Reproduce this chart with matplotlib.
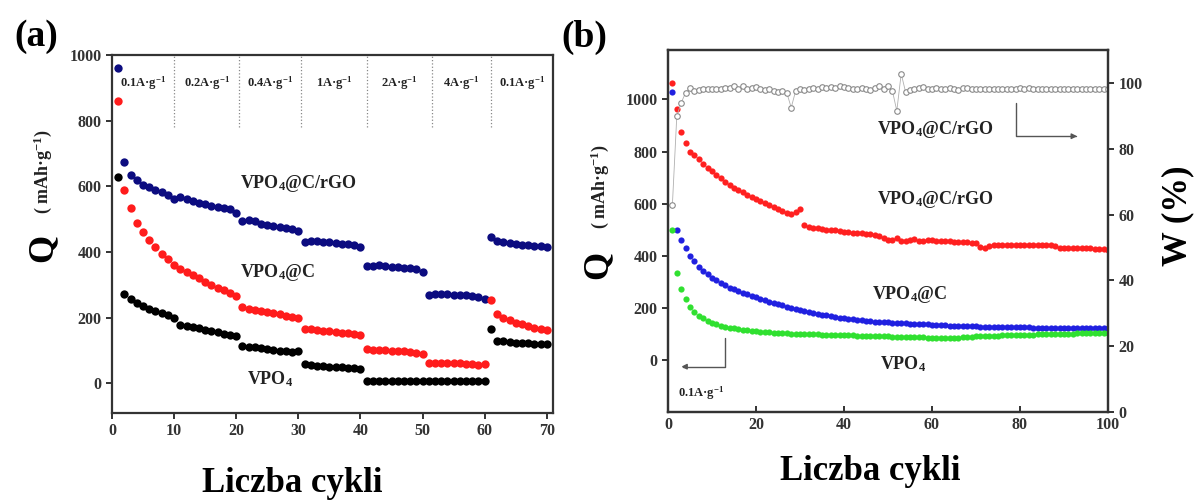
import matplotlib
matplotlib.use("Agg")
import matplotlib.pyplot as plt
import numpy as np

plt.rcParams['font.family'] = ['Liberation Serif', 'DejaVu Serif']
plt.rcParams['font.weight'] = 'bold'
plt.rcParams['mathtext.fontset'] = 'custom'
plt.rcParams['mathtext.rm'] = 'Liberation Serif:bold'
plt.rcParams['mathtext.bf'] = 'Liberation Serif:bold'
plt.rcParams['mathtext.it'] = 'Liberation Serif:bold:italic'
plt.rcParams['mathtext.default'] = 'bf'

# ---------------- data: panel (a) rate capability ----------------
cycles_a = list(range(1, 71))
rate_labels = ['0.1A·g$^{-1}$', '0.2A·g$^{-1}$', '0.4A·g$^{-1}$', '1A·g$^{-1}$',
               '2A·g$^{-1}$', '4A·g$^{-1}$', '0.1A·g$^{-1}$']
rate_bounds = [0, 10, 20.5, 30.5, 41, 51.5, 61, 71]

cap_a_rgo = [960, 675, 635, 620, 605, 597, 590, 582, 575, 562,
             568, 562, 555, 550, 545, 540, 537, 533, 530, 518,
             495, 498, 495, 485, 482, 480, 476, 474, 470, 465,
             432, 435, 433, 430, 430, 428, 426, 425, 420, 414,
             358, 357, 360, 357, 355, 354, 352, 350, 347, 340,
             270, 272, 273, 272, 270, 270, 268, 266, 264, 258,
             446, 435, 430, 428, 425, 423, 421, 419, 418, 415]
cap_a_c = [860, 590, 535, 490, 462, 438, 415, 395, 378, 362,
           348, 340, 330, 320, 310, 300, 292, 283, 275, 265,
           232, 228, 224, 220, 216, 213, 210, 206, 203, 198,
           166, 165, 163, 161, 159, 157, 155, 153, 151, 148,
           104, 103, 102, 101, 100, 99, 98, 96, 94, 91,
           62, 63, 63, 62, 62, 61, 60, 58, 56, 58,
           253, 210, 200, 192, 185, 180, 175, 170, 166, 162]
cap_a_vpo = [630, 273, 258, 245, 235, 227, 220, 213, 207, 200,
             178, 176, 172, 168, 164, 160, 156, 152, 148, 144,
             113, 112, 110, 108, 106, 103, 100, 98, 97, 98,
             58, 56, 54, 52, 51, 50, 49, 48, 47, 45,
             8, 8, 8, 7, 7, 7, 7, 7, 7, 7,
             7, 7, 7, 7, 7, 6, 6, 6, 6, 6,
             165, 130, 128, 126, 124, 123, 122, 121, 120, 119]

# ---------------- data: panel (b) cycling at 0.1 A/g ----------------
cycles_b = list(range(1, 101))
cap_b_rgo = [1065, 965, 875, 832, 800, 785, 770, 752, 738, 724,
             710, 697, 684, 672, 662, 652, 643, 633, 625, 618,
             610, 602, 594, 586, 578, 572, 566, 562, 568, 578,
             519, 512, 508, 505, 503, 500, 498, 497, 495, 492,
             490, 488, 487, 486, 485, 482, 478, 476, 470, 460,
             462, 468, 458, 455, 462, 466, 456, 455, 460, 462,
             458, 455, 458, 456, 454, 453, 452, 451, 450, 449,
             432, 430, 436, 440, 441, 442, 442, 443, 443, 443,
             443, 442, 442, 442, 441, 441, 440, 436, 430, 429,
             430, 430, 429, 429, 428, 428, 427, 426, 425, 423]
cap_b_c = [1030, 500, 462, 428, 400, 378, 358, 342, 328, 316,
           305, 295, 286, 278, 271, 264, 258, 252, 246, 240,
           234, 229, 224, 219, 214, 209, 205, 201, 197, 193,
           189, 185, 181, 177, 174, 171, 168, 165, 162, 160,
           158, 156, 154, 152, 150, 149, 147, 146, 145, 144,
           143, 142, 141, 140, 139, 138, 137, 136, 136, 135,
           134, 133, 133, 132, 131, 131, 130, 130, 129, 129,
           128, 128, 127, 127, 127, 126, 126, 126, 125, 125,
           125, 125, 124, 124, 124, 124, 123, 123, 123, 123,
           123, 122, 122, 122, 122, 122, 122, 121, 121, 121]
cap_b_vpo = [500, 335, 272, 232, 205, 185, 170, 160, 150, 143,
             137, 132, 128, 124, 121, 118, 116, 114, 112, 110,
             109, 108, 106, 105, 104, 103, 102, 101, 100, 100,
             99, 99, 98, 98, 97, 97, 96, 96, 95, 95,
             94, 94, 93, 93, 92, 92, 91, 91, 90, 90,
             89, 89, 88, 88, 88, 87, 87, 87, 86, 86,
             86, 86, 85, 85, 86, 86, 87, 88, 89, 90,
             91, 91, 92, 93, 93, 94, 94, 95, 95, 96,
             96, 97, 97, 98, 98, 99, 99, 100, 100, 100,
             101, 101, 102, 102, 102, 103, 103, 103, 104, 104]
ce_b = [63, 90, 94, 97, 98.5, 97.5, 97.8, 98.0, 98.2, 98.0,
        98.3, 98.1, 98.4, 98.6, 99.0, 98.2, 99.2, 98.0, 98.6, 98.9,
        98.3, 97.8, 98.1, 97.5, 97.2, 97.4, 97.0, 92.5, 97.5, 98.0,
        97.8, 98.3, 98.5, 98.1, 98.7, 98.4, 98.9, 98.6, 99.0, 98.8,
        98.5, 98.2, 98.0, 98.4, 98.1, 97.9, 98.5, 99.2, 98.0, 99.0,
        97.6, 91.5, 102.8, 97.2, 97.8, 98.2, 98.5, 98.8, 98.3, 98.1,
        98.6, 98.0, 98.3, 98.5, 98.2, 97.9, 98.4, 98.6, 98.1, 98.3,
        98.0, 98.2, 98.1, 98.0, 98.1, 98.2, 98.0, 98.1, 98.3, 98.4,
        98.2, 98.6, 98.1, 98.0, 98.2, 98.1, 98.0, 98.1, 98.2, 98.3,
        98.1, 98.0, 98.1, 98.2, 98.1, 98.0, 98.1, 98.2, 98.1, 98.2]

W, H = 1195, 503
fig = plt.figure(figsize=(W / 100, H / 100), dpi=100)

def fx(px):
    return px / W

def fy(py):
    return 1 - py / H

spine_c = '#333333'

def style_axes(ax):
    for s in ax.spines.values():
        s.set_linewidth(1.6)
        s.set_color(spine_c)
    ax.tick_params(labelsize=11.5, colors='#333333', width=1.4, length=4)
    for lab in ax.get_xticklabels() + ax.get_yticklabels():
        lab.set_fontweight('bold')

# ---------------- panel (a) ----------------
axA = fig.add_axes([fx(112), fy(413), fx(553) - fx(112), fy(55) - fy(413)])
axA.scatter(cycles_a, cap_a_rgo, s=36, color='#0c0c80', zorder=3, linewidths=0)
axA.scatter(cycles_a, cap_a_c, s=36, color='#ff1c1c', zorder=4, linewidths=0)
axA.scatter(cycles_a, cap_a_vpo, s=36, color='#000000', zorder=5, linewidths=0)
axA.set_xlim(0, 71)
axA.set_ylim(-90, 1000)
axA.set_xticks(range(0, 71, 10))
axA.set_yticks(range(0, 1001, 200))
axA.tick_params(direction='out')
style_axes(axA)
axA.vlines(rate_bounds[1:-1], 780, 1000, colors='#888888', linestyles=':', lw=0.9)
for i, lab in enumerate(rate_labels):
    xc = (rate_bounds[i] + rate_bounds[i + 1]) / 2
    axA.text(xc, 915, lab, ha='center', va='center', fontsize=9,
             fontweight='bold', color='#222222')
axA.text(30, 610, r'VPO$_{4}$@C/rGO', ha='center', va='center', fontsize=13, color='#222222')
axA.text(26.6, 338, r'VPO$_{4}$@C', ha='center', va='center', fontsize=13, color='#222222')
axA.text(25.4, 12, r'VPO$_{4}$', ha='center', va='center', fontsize=13, color='#222222')

# ---------------- panel (b) ----------------
axB = fig.add_axes([fx(668), fy(412), fx(1108) - fx(668), fy(50) - fy(412)])
axB2 = axB.twinx()
axB.scatter(cycles_b, cap_b_rgo, s=20, color='#ff2020', zorder=3, linewidths=0)
axB.scatter(cycles_b, cap_b_c, s=20, color='#2020e0', zorder=4, linewidths=0)
axB.scatter(cycles_b, cap_b_vpo, s=20, color='#30e030', zorder=5, linewidths=0)
axB.set_xlim(0, 100)
axB.set_ylim(-200, 1190)
axB.set_xticks(range(0, 101, 20))
axB.set_yticks(range(0, 1001, 200))
axB.tick_params(axis='y', direction='out')
axB.tick_params(axis='x', direction='in')
style_axes(axB)

axB2.plot(cycles_b, ce_b, color='#b0b0b0', lw=0.6, marker='o', ms=4,
          mfc='white', mec='#8a8a8a', mew=0.8, zorder=2)
axB2.set_ylim(0, 110)
axB2.set_yticks(range(0, 101, 20))
axB2.tick_params(direction='out')
style_axes(axB2)

axB.text(60.7, 885, r'VPO$_{4}$@C/rGO', ha='center', va='center', fontsize=13, color='#222222')
axB.text(60.7, 615, r'VPO$_{4}$@C/rGO', ha='center', va='center', fontsize=13, color='#222222')
axB.text(55, 250, r'VPO$_{4}$@C', ha='center', va='center', fontsize=13, color='#222222')
axB.text(53.4, -15, r'VPO$_{4}$', ha='center', va='center', fontsize=13, color='#222222')
axB.text(2.3, -127, '0.1A·g$^{-1}$', ha='left', va='center', fontsize=9, color='#222222')

axB.annotate('', xy=(3, -26), xytext=(13, 85),
             arrowprops=dict(arrowstyle='-|>', connectionstyle='angle,angleA=90,angleB=0,rad=0',
                             color='#555555', lw=1.0, mutation_scale=8, shrinkA=0, shrinkB=0))
axB2.annotate('', xy=(93, 83.8), xytext=(79, 94),
              arrowprops=dict(arrowstyle='-|>', connectionstyle='angle,angleA=90,angleB=0,rad=0',
                              color='#555555', lw=1.0, mutation_scale=8, shrinkA=0, shrinkB=0))

# ---------------- figure texts ----------------
fig.text(fx(36), fy(37), '(a)', ha='center', va='center', fontsize=27, fontweight='bold')
fig.text(fx(584), fy(37), '(b)', ha='center', va='center', fontsize=27, fontweight='bold')

fig.text(fx(43), fy(248), 'Q', ha='center', va='center', fontsize=26, fontweight='bold', rotation=90)
fig.text(fx(43), fy(172), '( mAh·g$^{-1}$)', ha='center', va='center', fontsize=13,
         fontweight='bold', rotation=90, color='#222222')
fig.text(fx(598), fy(265), 'Q', ha='center', va='center', fontsize=26, fontweight='bold', rotation=90)
fig.text(fx(600), fy(187), '( mAh·g$^{-1}$)', ha='center', va='center', fontsize=13,
         fontweight='bold', rotation=90, color='#222222')
fig.text(fx(1178), fy(216), 'W (%)', ha='center', va='center', fontsize=25, fontweight='bold', rotation=90)

fig.text(fx(292), fy(484), 'Liczba cykli', ha='center', va='center', fontsize=25, fontweight='bold')
fig.text(fx(870), fy(472), 'Liczba cykli', ha='center', va='center', fontsize=25, fontweight='bold')

fig.savefig('out.png', dpi=100)
